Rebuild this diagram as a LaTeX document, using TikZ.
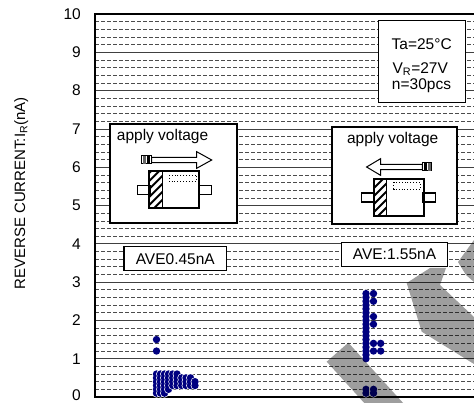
\documentclass[tikz,border=0pt]{standalone}
\usepackage{fontspec}
\setmainfont{Liberation Sans}

% package drawn inside the "apply voltage" panels
\newcommand{\diodepkg}[1]{%
  \begin{scope}[shift={#1}]
    \draw[line width=1.5pt,fill=white] (-37,-4.5) rectangle (-24,4.5);
    \draw[line width=1.5pt,fill=white] (24,-4.5) rectangle (37,4.5);
    \begin{scope}
      \clip (-25,-18.5) rectangle (-12,18.5);
      \foreach \s in {-32,-24,...,40}
        \draw[line width=1.9pt] (-26,\s) -- ++(16,-16);
    \end{scope}
    \draw[dotted,line width=0.9pt] (-5,-15) rectangle (22,-8.5);
    \draw[line width=2pt] (-25,-18.5) rectangle (25,18.5);
    \draw[line width=1pt] (-12,-18.5) -- (-12,18.5);
  \end{scope}}

% hollow arrow with striped tail
\newcommand{\voltarrow}[2]{%
  \begin{scope}[shift={#1},xscale=#2]
    \draw[line width=1pt,fill=white] (10,-2.6) -- (55,-2.6) -- (55,-8.3) -- (70,0)
      -- (55,8.3) -- (55,2.6) -- (10,2.6) -- cycle;
    \draw[line width=1pt,fill=white] (0,-4) rectangle (10,4);
    \fill[black!60] (1,-4) rectangle (4,4);
    \fill (5.5,-4) rectangle (8.5,4);
  \end{scope}}

\begin{document}
\begin{tikzpicture}[x=1pt,y=-1pt,
  every node/.style={font=\fontsize{15.5}{18}\selectfont},
  grid dash/.style={black!70,line width=0.6pt,dash pattern=on 4pt off 2pt},
  grid solid/.style={black!75,line width=0.6pt},
  frame/.style={black,line width=1.7pt},
  panel/.style={draw,line width=1.5pt,fill=white,inner sep=0pt},
  dot/.style={fill=blue!50!black},
  halo/.style={fill=white},
  stamp/.style={fill=black,opacity=0.38}]
\useasboundingbox (0,0) rectangle (474,403);
\clip (0,0) rectangle (474,403);

% plot area in nA
\begin{scope}[shift={(0,397)},y=38.3pt]
  \foreach \i in {0,...,9}
    \foreach \f in {0.2,0.4,0.6,0.8}
      \draw[grid dash] (95,\i+\f) -- (474,\i+\f);
  \foreach \v in {1,...,9}
    \draw[grid solid] (95,\v) -- (474,\v);
  \draw[frame] (480,10) -- (95,10) -- (95,0) -- (480,0);
  \foreach \v in {1,...,10}
    \node[anchor=east,inner sep=0pt] (t\v) at (81,\v) {\v};
  \node[anchor=east,inner sep=0pt] (t0) at (81,0.04) {0};

  % forward group, one column per repeated value
  \foreach \x/\lo/\hi in {156.5/1/6,160.5/1/6,164.5/1/6,168.5/2/6,172.7/3/6,
                          177/3/6,181.7/3/5,186/3/5,190.5/3/5,195/3/4}{
    \foreach \k in {\lo,...,\hi}
      \fill[halo] (\x,\k/10) circle[radius=4.4pt];
    \foreach \k in {\lo,...,\hi}
      \fill[dot] (\x,\k/10) circle[radius=3.7pt];
  }
  \fill[dot] (156.5,1.2) circle[radius=3.7pt];
  \fill[dot] (156.5,1.5) circle[radius=3.7pt];

  % reverse group
  \foreach \x/\lo/\hi in {366/10/27,366/1/2,373.5/1/2}{
    \foreach \k in {\lo,...,\hi}
      \fill[halo] (\x,\k/10) circle[radius=4.4pt];
    \foreach \k in {\lo,...,\hi}
      \fill[dot] (\x,\k/10) circle[radius=3.7pt];
  }
  \foreach \x/\k in {373.5/27,373.5/25,373.5/21,373.5/19,373.5/14,373.5/12,
                     380.7/14,380.7/12}
    \fill[dot] (\x,\k/10) circle[radius=3.7pt];
\end{scope}

% watermark
\fill[stamp] (326.7,361.7) -- (348.3,342.7) -- (418.3,419.7) -- (396.7,438.7) -- cycle;
\fill[stamp] (406.7,283) -- (430,268) -- (446,268) -- (440,285) -- (474,317)
  -- (474,364) -- (421.7,331.7) -- cycle;
\fill[stamp] (458,262) -- (474,240) -- (474,282) -- (466,275) -- cycle;

\node[rotate=90,anchor=base,inner sep=0pt,font=\fontsize{15}{18}\selectfont] (ylab)
  at (25,193.5) {REVERSE CURRENT:I\textsubscript{R}(nA)};

% conditions
\node[panel,minimum width=87pt,minimum height=82pt] (cond) at (422.2,61.7) {};
\node[anchor=base,inner sep=0pt] (ta) at (421.7,50) {Ta=25\textdegree C};
\node[anchor=base,inner sep=0pt] (vr) at (420.3,73.3) {V\textsubscript{R}=27V};
\node[anchor=base,inner sep=0pt] (pcs) at (421.5,90) {n=30pcs};

% forward panel
\node[panel,minimum width=127pt,minimum height=99pt] (fwdbox) at (173.5,173.5) {};
\node[anchor=base west,inner sep=0pt] (fwdtxt) at (116.7,141) {apply voltage};
\voltarrow{(141.7,160)}{1}
\diodepkg{(174.3,190)}
\node[panel,minimum width=102.7pt,minimum height=24pt] (fwdave) at (175.3,258.7) {AVE0.45nA};

% reverse panel
\node[panel,minimum width=125pt,minimum height=97pt] (revbox) at (394.5,175.5) {};
\node[anchor=base,inner sep=0pt] (revtxt) at (392.7,144) {apply voltage};
\voltarrow{(431.7,167)}{-0.93}
\diodepkg{(398.5,197.5)}
\node[panel,minimum width=106.4pt,minimum height=24pt] (revave) at (394.5,254.7) {AVE:1.55nA};
\end{tikzpicture}
\end{document}
